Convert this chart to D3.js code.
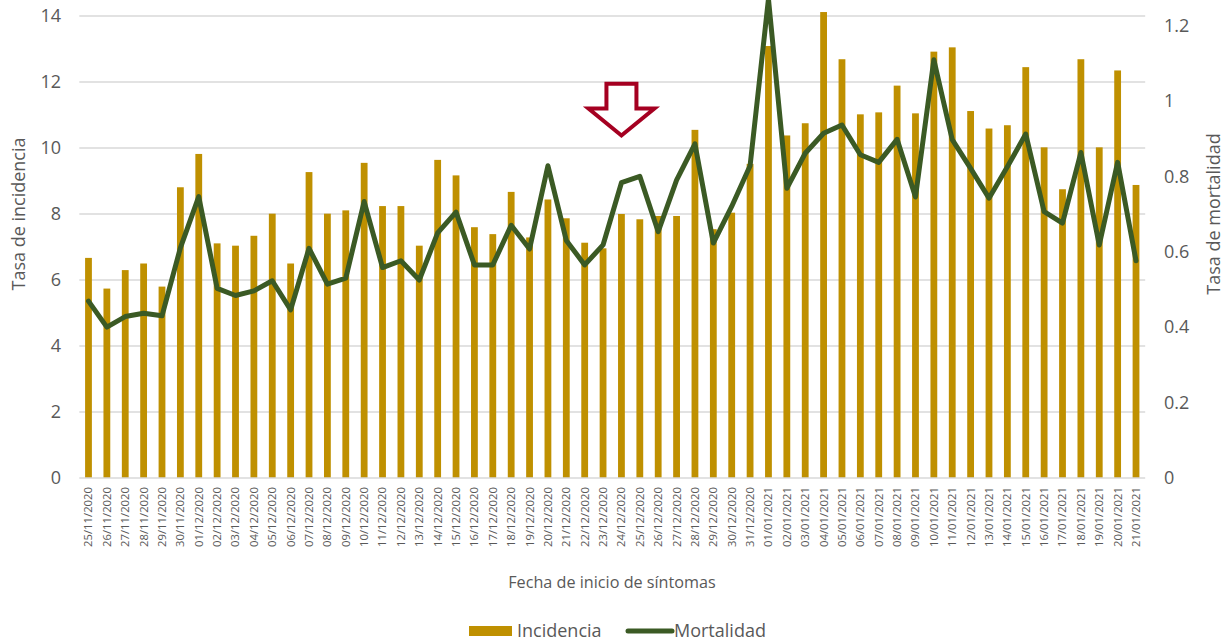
<!DOCTYPE html>
<html>
<head>
<meta charset="utf-8">
<script src="https://cdn.jsdelivr.net/npm/d3@7"></script>
<style>
  html, body { margin: 0; padding: 0; background: #fff; }
  svg { display: block; font-family: "Open Sans", "Noto Sans", sans-serif; }
</style>
</head>
<body>
<svg id="chart" width="1230" height="643"></svg>
<script>
// Fecha de inicio de síntomas
const fechas = [
  "25/11/2020","26/11/2020","27/11/2020","28/11/2020","29/11/2020","30/11/2020",
  "01/12/2020","02/12/2020","03/12/2020","04/12/2020","05/12/2020","06/12/2020",
  "07/12/2020","08/12/2020","09/12/2020","10/12/2020","11/12/2020","12/12/2020",
  "13/12/2020","14/12/2020","15/12/2020","16/12/2020","17/12/2020","18/12/2020",
  "19/12/2020","20/12/2020","21/12/2020","22/12/2020","23/12/2020","24/12/2020",
  "25/12/2020","26/12/2020","27/12/2020","28/12/2020","29/12/2020","30/12/2020",
  "31/12/2020","01/01/2021","02/01/2021","03/01/2021","04/01/2021","05/01/2021",
  "06/01/2021","07/01/2021","08/01/2021","09/01/2021","10/01/2021","11/01/2021",
  "12/01/2021","13/01/2021","14/01/2021","15/01/2021","16/01/2021","17/01/2021",
  "18/01/2021","19/01/2021","20/01/2021","21/01/2021"
];

// Tasa de incidencia (eje izquierdo)
const incidencia = [
  6.67, 5.74, 6.30, 6.50, 5.80, 8.81,
  9.82, 7.11, 7.04, 7.34, 8.01, 6.50,
  9.27, 8.01, 8.11, 9.55, 8.24, 8.24,
  7.04, 9.64, 9.17, 7.60, 7.39, 8.67,
  7.29, 8.44, 7.87, 7.13, 6.96, 8.00,
  7.84, 7.94, 7.94, 10.55, 7.54, 8.04,
  9.52, 13.09, 10.38, 10.75, 14.12, 12.69,
  11.02, 11.08, 11.89, 11.05, 12.92, 13.05,
  11.12, 10.59, 10.69, 12.45, 10.02, 8.75,
  12.69, 10.02, 12.35, 8.88
];

// Tasa de mortalidad (eje derecho)
const mortalidad = [
  0.469, 0.400, 0.428, 0.437, 0.430, 0.610,
  0.746, 0.503, 0.484, 0.496, 0.523, 0.446,
  0.609, 0.514, 0.530, 0.733, 0.558, 0.576,
  0.525, 0.650, 0.705, 0.565, 0.565, 0.670,
  0.607, 0.828, 0.630, 0.565, 0.618, 0.783,
  0.800, 0.653, 0.790, 0.886, 0.623, 0.720,
  0.828, 1.270, 0.768, 0.861, 0.914, 0.936,
  0.857, 0.837, 0.898, 0.745, 1.109, 0.897,
  0.821, 0.742, 0.825, 0.912, 0.706, 0.676,
  0.863, 0.618, 0.837, 0.576
];

const ticksIzq = [0, 2, 4, 6, 8, 10, 12, 14];
const ticksDer = [0, 0.2, 0.4, 0.6, 0.8, 1, 1.2];

// Flecha de aviso sobre el 24/12 (en unidades del eje izquierdo)
const flecha = { fecha: "24/12/2020", desde: 11.95, hasta: 10.38 };

const colorBarra = "#BF9000";
const colorLinea = "#3B5A24";
const colorTexto = "#595959";
const colorRejilla = "#D9D9D9";

const svg = d3.select("#chart");

const plot = { left: 79.3, right: 1145.2, top: -50, bottom: 478 };

const x = d3.scaleBand()
  .domain(fechas)
  .range([plot.left, plot.right])
  .paddingInner(0.63)
  .paddingOuter(0.315);

const yIzq = d3.scaleLinear().domain([0, 16]).range([plot.bottom, plot.top]);
const yDer = d3.scaleLinear().domain([0, 1.4]).range([plot.bottom, plot.top]);

// Rejilla horizontal
svg.append("g")
  .selectAll("line")
  .data(ticksIzq.filter(d => d > 0))
  .join("line")
  .attr("x1", plot.left).attr("x2", plot.right)
  .attr("y1", d => yIzq(d)).attr("y2", d => yIzq(d))
  .attr("stroke", colorRejilla).attr("stroke-width", 1.3);

// Barras de incidencia
svg.append("g")
  .selectAll("rect")
  .data(incidencia)
  .join("rect")
  .attr("x", (d, i) => x(fechas[i]))
  .attr("width", x.bandwidth())
  .attr("y", d => yIzq(d))
  .attr("height", d => yIzq(0) - yIzq(d))
  .attr("fill", colorBarra);

// Eje X (línea base)
svg.append("line")
  .attr("x1", plot.left).attr("x2", plot.right)
  .attr("y1", yIzq(0)).attr("y2", yIzq(0))
  .attr("stroke", colorRejilla).attr("stroke-width", 1.5);

// Línea de mortalidad
const linea = d3.line()
  .x((d, i) => x(fechas[i]) + x.bandwidth() / 2)
  .y(d => yDer(d));

svg.append("path")
  .datum(mortalidad)
  .attr("d", linea)
  .attr("fill", "none")
  .attr("stroke", colorLinea)
  .attr("stroke-width", 5)
  .attr("stroke-linejoin", "round")
  .attr("stroke-linecap", "round");

// Eje izquierdo
const ejeIzq = d3.axisLeft(yIzq).tickValues(ticksIzq).tickSize(0).tickPadding(0)
  .tickFormat(d3.format("d"));
svg.append("g")
  .attr("transform", `translate(61,0)`)
  .call(ejeIzq)
  .call(g => g.select(".domain").remove())
  .call(g => g.selectAll("text")
    .attr("fill", colorTexto).attr("font-size", 18)
    .attr("font-family", "'Open Sans', sans-serif"));

// Eje derecho
const ejeDer = d3.axisRight(yDer).tickValues(ticksDer).tickSize(0).tickPadding(0)
  .tickFormat(d => d === 0 || d === 1 ? String(d) : d3.format(".1f")(d));
svg.append("g")
  .attr("transform", `translate(1164,0)`)
  .call(ejeDer)
  .call(g => g.select(".domain").remove())
  .call(g => g.selectAll("text")
    .attr("fill", colorTexto).attr("font-size", 18)
    .attr("font-family", "'Open Sans', sans-serif"));

// Etiquetas de fecha
const ejeX = d3.axisBottom(x).tickSize(0).tickPadding(0);
svg.append("g")
  .attr("transform", `translate(0,${yIzq(0)})`)
  .call(ejeX)
  .call(g => g.select(".domain").remove())
  .call(g => g.selectAll("text")
    .attr("fill", colorTexto).attr("font-size", 11.3)
    .attr("font-family", "'Open Sans', sans-serif")
    .attr("text-anchor", "end")
    .attr("dy", "0.35em")
    .attr("transform", "translate(0,9) rotate(-90)")
    .attr("x", 0).attr("y", 0));

// Títulos de ejes
const centroY = (plot.top + plot.bottom) / 2;
svg.append("text")
  .attr("transform", `translate(25,${centroY}) rotate(-90)`)
  .attr("text-anchor", "middle")
  .attr("fill", colorTexto).attr("font-size", 18)
  .text("Tasa de incidencia");

svg.append("text")
  .attr("transform", `translate(1220,${centroY}) rotate(-90)`)
  .attr("text-anchor", "middle")
  .attr("fill", colorTexto).attr("font-size", 18)
  .text("Tasa de mortalidad");

svg.append("text")
  .attr("x", 612).attr("y", 588)
  .attr("text-anchor", "middle")
  .attr("fill", colorTexto).attr("font-size", 16.2)
  .text("Fecha de inicio de síntomas");

// Leyenda
const leyenda = svg.append("g").attr("transform", "translate(0,631)");
leyenda.append("rect")
  .attr("x", 469).attr("y", -5).attr("width", 43).attr("height", 10)
  .attr("fill", colorBarra);
leyenda.append("text")
  .attr("x", 517).attr("y", 0).attr("dy", "0.35em")
  .attr("fill", colorTexto).attr("font-size", 18)
  .text("Incidencia");
leyenda.append("line")
  .attr("x1", 628).attr("x2", 672).attr("y1", 0).attr("y2", 0)
  .attr("stroke", colorLinea).attr("stroke-width", 5).attr("stroke-linecap", "round");
leyenda.append("text")
  .attr("x", 674).attr("y", 0).attr("dy", "0.35em")
  .attr("fill", colorTexto).attr("font-size", 18)
  .text("Mortalidad");

// Flecha hacia abajo (contorno rojo)
{
  const cx = x(flecha.fecha) + x.bandwidth() / 2;
  const yTop = yIzq(flecha.desde);
  const yTip = yIzq(flecha.hasta);
  const alto = yTip - yTop;
  const yBase = yTop + alto * 0.48;
  const medioAstil = 15;
  const medioCabeza = 33;
  const pts = [
    [cx - medioAstil, yTop], [cx + medioAstil, yTop],
    [cx + medioAstil, yBase], [cx + medioCabeza, yBase],
    [cx, yTip], [cx - medioCabeza, yBase],
    [cx - medioAstil, yBase]
  ];
  svg.append("polygon")
    .attr("points", pts.map(p => p.join(",")).join(" "))
    .attr("fill", "none")
    .attr("stroke", "#A50021")
    .attr("stroke-width", 4)
    .attr("stroke-linejoin", "miter");
}
</script>
</body>
</html>
